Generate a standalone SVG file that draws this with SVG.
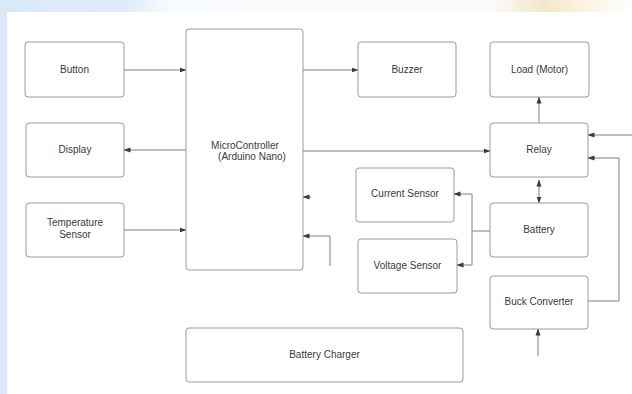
<svg xmlns="http://www.w3.org/2000/svg" width="632" height="394" viewBox="0 0 632 394">
<defs>
<linearGradient id="topg" x1="0" y1="0" x2="1" y2="0">
<stop offset="0" stop-color="#d9e8f8"/>
<stop offset="0.2" stop-color="#dfecf9"/>
<stop offset="0.26" stop-color="#f7fafd"/>
<stop offset="0.78" stop-color="#fbfbfb"/>
<stop offset="0.86" stop-color="#f4e6c8"/>
<stop offset="0.93" stop-color="#fbf4e6"/>
<stop offset="1" stop-color="#ffffff"/>
</linearGradient>
<marker id="ah" markerUnits="userSpaceOnUse" markerWidth="7" markerHeight="6" refX="6.5" refY="3" orient="auto">
<path d="M0,0.5 L7,3 L0,5.5 z" fill="#3a3a3a"/>
</marker>
<marker id="as" markerUnits="userSpaceOnUse" markerWidth="7" markerHeight="6" refX="0.5" refY="3" orient="auto">
<path d="M7,0.5 L0,3 L7,5.5 z" fill="#3a3a3a"/>
</marker>
</defs>
<style>
.box{fill:#ffffff;stroke:#9a9a9a;stroke-width:1}
.t{font-family:"Liberation Sans",Arial,sans-serif;font-size:10px;fill:#3a3a3a;text-anchor:middle}
.c{fill:none;stroke:#808080;stroke-width:1}
.ca{fill:none;stroke:#808080;stroke-width:1;marker-end:url(#ah)}
</style>
<rect x="0" y="0" width="632" height="394" fill="#ffffff"/>
<rect x="0" y="0" width="632" height="12" fill="url(#topg)"/>
<rect x="0" y="0" width="7" height="394" fill="#dbe8f8"/>

<g id="connectors">
<path class="ca" d="M124,70 H186"/>
<path class="ca" d="M303,70 H358"/>
<path class="ca" d="M186,150 H124"/>
<path class="ca" d="M124,230 H186"/>
<path class="ca" d="M303,151 H490"/>
<path class="ca" d="M539,123 V97"/>
<path class="ca" d="M539,180 V203" style="marker-start:url(#as)"/>
<path class="ca" d="M490,231 H472 V194 H454"/>
<path class="ca" d="M472,231 V265 H457"/>
<path class="ca" d="M311,197 H303"/>
<path class="ca" d="M330,266 V236 H303"/>
<path class="ca" d="M632,135 H588"/>
<path class="ca" d="M588,301 H619 V158 H588"/>
<path class="ca" d="M538,356 V329"/>
</g>

<g id="button"><rect class="box" x="25" y="42" width="99" height="55" rx="3"/><text class="t" x="74.5" y="73">Button</text></g>
<g id="display"><rect class="box" x="26" y="123" width="98" height="54" rx="3"/><text class="t" x="75" y="153">Display</text></g>
<g id="temperature"><rect class="box" x="26" y="203" width="98" height="54" rx="3"/><text class="t" x="75" y="226">Temperature</text><text class="t" x="75" y="238">Sensor</text></g>
<g id="microcontroller"><rect class="box" x="186" y="29" width="117" height="241" rx="3"/><text class="t" x="245" y="149">MicroController</text><text class="t" x="252" y="160">(Arduino Nano)</text></g>
<g id="buzzer"><rect class="box" x="358" y="42" width="98" height="55" rx="3"/><text class="t" x="407" y="73">Buzzer</text></g>
<g id="load"><rect class="box" x="490" y="42" width="99" height="55" rx="3"/><text class="t" x="539.5" y="73">Load (Motor)</text></g>
<g id="relay"><rect class="box" x="490" y="123" width="98" height="54" rx="3"/><text class="t" x="539" y="153">Relay</text></g>
<g id="current"><rect class="box" x="356" y="168" width="98" height="54" rx="3"/><text class="t" x="405" y="197">Current Sensor</text></g>
<g id="battery"><rect class="box" x="490" y="203" width="98" height="54" rx="3"/><text class="t" x="539" y="233">Battery</text></g>
<g id="voltage"><rect class="box" x="358" y="239" width="99" height="54" rx="3"/><text class="t" x="407.5" y="269">Voltage Sensor</text></g>
<g id="buck"><rect class="box" x="490" y="276" width="98" height="53" rx="3"/><text class="t" x="539" y="305">Buck Converter</text></g>
<g id="charger"><rect class="box" x="186" y="328" width="277" height="54" rx="3"/><text class="t" x="324.5" y="358">Battery Charger</text></g>
</svg>
